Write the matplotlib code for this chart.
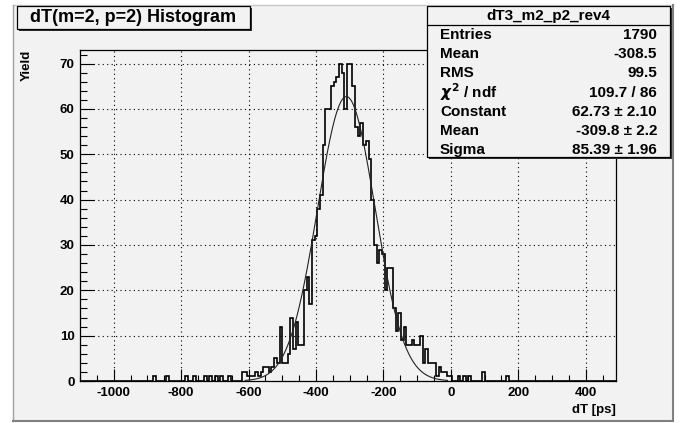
import numpy as np
import matplotlib.pyplot as plt
from matplotlib.patches import Rectangle
from matplotlib.lines import Line2D

W, H = 684, 423

# histogram binning (ps)
bin_lo = -1100
bin_w = 8
n_bins = 200

# main body of the histogram, contiguous bins starting at body_start
body_start = -620
body_counts = [2, 2, 1, 1, 1, 2, 1, 2, 3, 3, 2, 3, 5,
               4, 12, 4, 4, 6, 14, 7, 13, 8, 8,
               20, 23, 17, 31, 32, 38, 41, 52,
               60, 60, 65, 66, 67, 70, 68, 60, 70, 70,
               65, 56, 54, 57, 52, 53, 49, 40,
               30, 26, 29, 28, 20, 25, 25,
               16, 11, 15, 9, 12, 8, 8, 9, 8, 8,
               10, 4, 7, 4, 4, 4, 1, 3, 2, 2, 1, 1]

# isolated entries in the tails (bin start, count)
tail_x = [-884, -844, -788, -764, -732, -716, -700, -684, -660, 20, 36, 52, 92, 164]
tail_n = [1, 1, 1, 1, 1, 1, 1, 1, 1, 1, 1, 1, 2, 1]

# gaussian fit result
g_const, g_mean, g_sigma = 62.73, -309.8, 85.39
fit_lo, fit_hi = -610, -10

title = "dT(m=2, p=2) Histogram"
stat_name = "dT3_m2_p2_rev4"
stat_rows = [("Entries", "1790"), ("Mean", "-308.5"), ("RMS", "99.5"),
             (r"$\chi^{2}$ / ndf", "109.7 / 86"), ("Constant", "62.73 \u00b1 2.10"),
             ("Mean", "-309.8 \u00b1 2.2"), ("Sigma", "85.39 \u00b1 1.96")]

edges = bin_lo + bin_w * np.arange(n_bins + 1)
counts = np.zeros(n_bins)
i0 = (body_start - bin_lo) // bin_w
counts[i0:i0 + len(body_counts)] = body_counts
for x, n in zip(tail_x, tail_n):
    counts[(x - bin_lo) // bin_w] = n

plt.rcParams['font.family'] = ['Liberation Sans', 'DejaVu Sans']
plt.rcParams['font.weight'] = 'bold'
plt.rcParams['axes.unicode_minus'] = False

bg = '#f2f2f2'
fig = plt.figure(figsize=(W / 100, H / 100), dpi=100, facecolor='white')


def fx(x):
    return x / W


def fy(y):
    return 1 - y / H


# pad
fig.patches.append(Rectangle((fx(13), fy(421)), fx(673) - fx(13), fy(5) - fy(421),
                             transform=fig.transFigure, facecolor=bg, edgecolor='none', zorder=0))
for (x1, y1, x2, y2, c, lw) in [(13, 5, 673, 5, '#c8c8c8', 1), (13, 5, 13, 421, '#a0a0a0', 1),
                                (673, 5, 673, 421, '#808080', 1.5), (13, 421, 673, 421, '#808080', 1.5)]:
    fig.lines.append(Line2D([fx(x1), fx(x2)], [fy(y1), fy(y2)], transform=fig.transFigure,
                            color=c, lw=lw, zorder=1))

ax = fig.add_axes([fx(80), fy(381), fx(616) - fx(80), fy(50) - fy(381)])
ax.set_zorder(2)
ax.set_facecolor(bg)
ax.stairs(counts, edges, color='black', lw=1.2, zorder=3)
xf = np.linspace(fit_lo, fit_hi, 400)
ax.plot(xf, g_const * np.exp(-0.5 * ((xf - g_mean) / g_sigma) ** 2), color='#222222', lw=0.8, zorder=4)

ax.set_xlim(-1100, 490)
ax.set_ylim(0, 73)
ax.set_xticks(np.arange(-1000, 401, 200))
ax.set_xticks(np.arange(-1100, 491, 50), minor=True)
ax.set_yticks(np.arange(0, 71, 10))
ax.set_yticks(np.arange(0, 73, 2), minor=True)
ax.grid(True, which='major', color='black', linestyle=(0, (1, 3)), lw=0.8)
ax.tick_params(which='both', direction='in', top=False, right=False, labelsize=9.5, width=0.8, pad=4)
ax.tick_params(axis='x', which='major', length=9)
ax.tick_params(axis='x', which='minor', length=4.5)
ax.tick_params(axis='y', which='major', length=10)
ax.tick_params(axis='y', which='minor', length=5)
for lab in ax.get_xticklabels() + ax.get_yticklabels():
    lab.set_fontweight('bold')
for s in ax.spines.values():
    s.set_linewidth(0.9)

ax.text(-0.099, 1.0, "Yield", transform=ax.transAxes, rotation=90, ha='center', va='top',
        fontsize=9.5, fontweight='bold')
ax.text(1.0, -0.088, "dT [ps]", transform=ax.transAxes, ha='right', va='center',
        fontsize=9.5, fontweight='bold')


def box(x1, y1, x2, y2):
    fig.patches.append(Rectangle((fx(x1 + 2), fy(y2 + 2)), fx(x2) - fx(x1), fy(y1) - fy(y2),
                                 transform=fig.transFigure, facecolor='#303030', edgecolor='none', zorder=5))
    fig.patches.append(Rectangle((fx(x1), fy(y2)), fx(x2) - fx(x1), fy(y1) - fy(y2),
                                 transform=fig.transFigure, facecolor=bg, edgecolor='black', lw=0.9, zorder=6))


# title box
box(17, 6, 250, 29)
fig.text(fx(133.5), fy(17.5), title, ha='center', va='center', fontsize=13, fontweight='bold', zorder=7)

# stats box
box(427, 6, 670, 157)
fig.lines.append(Line2D([fx(427), fx(670)], [fy(25), fy(25)], transform=fig.transFigure,
                        color='black', lw=0.9, zorder=7))
fig.text(fx(548.5), fy(16), stat_name, ha='center', va='center', fontsize=11, fontweight='bold', zorder=7)
for k, (name, val) in enumerate(stat_rows):
    yy = 35 + k * 19.2
    fig.text(fx(440), fy(yy), name, ha='left', va='center', fontsize=11, fontweight='bold', zorder=7)
    fig.text(fx(657), fy(yy), val, ha='right', va='center', fontsize=11, fontweight='bold', zorder=7)

fig.savefig('out.png', dpi=100, facecolor=fig.get_facecolor())
